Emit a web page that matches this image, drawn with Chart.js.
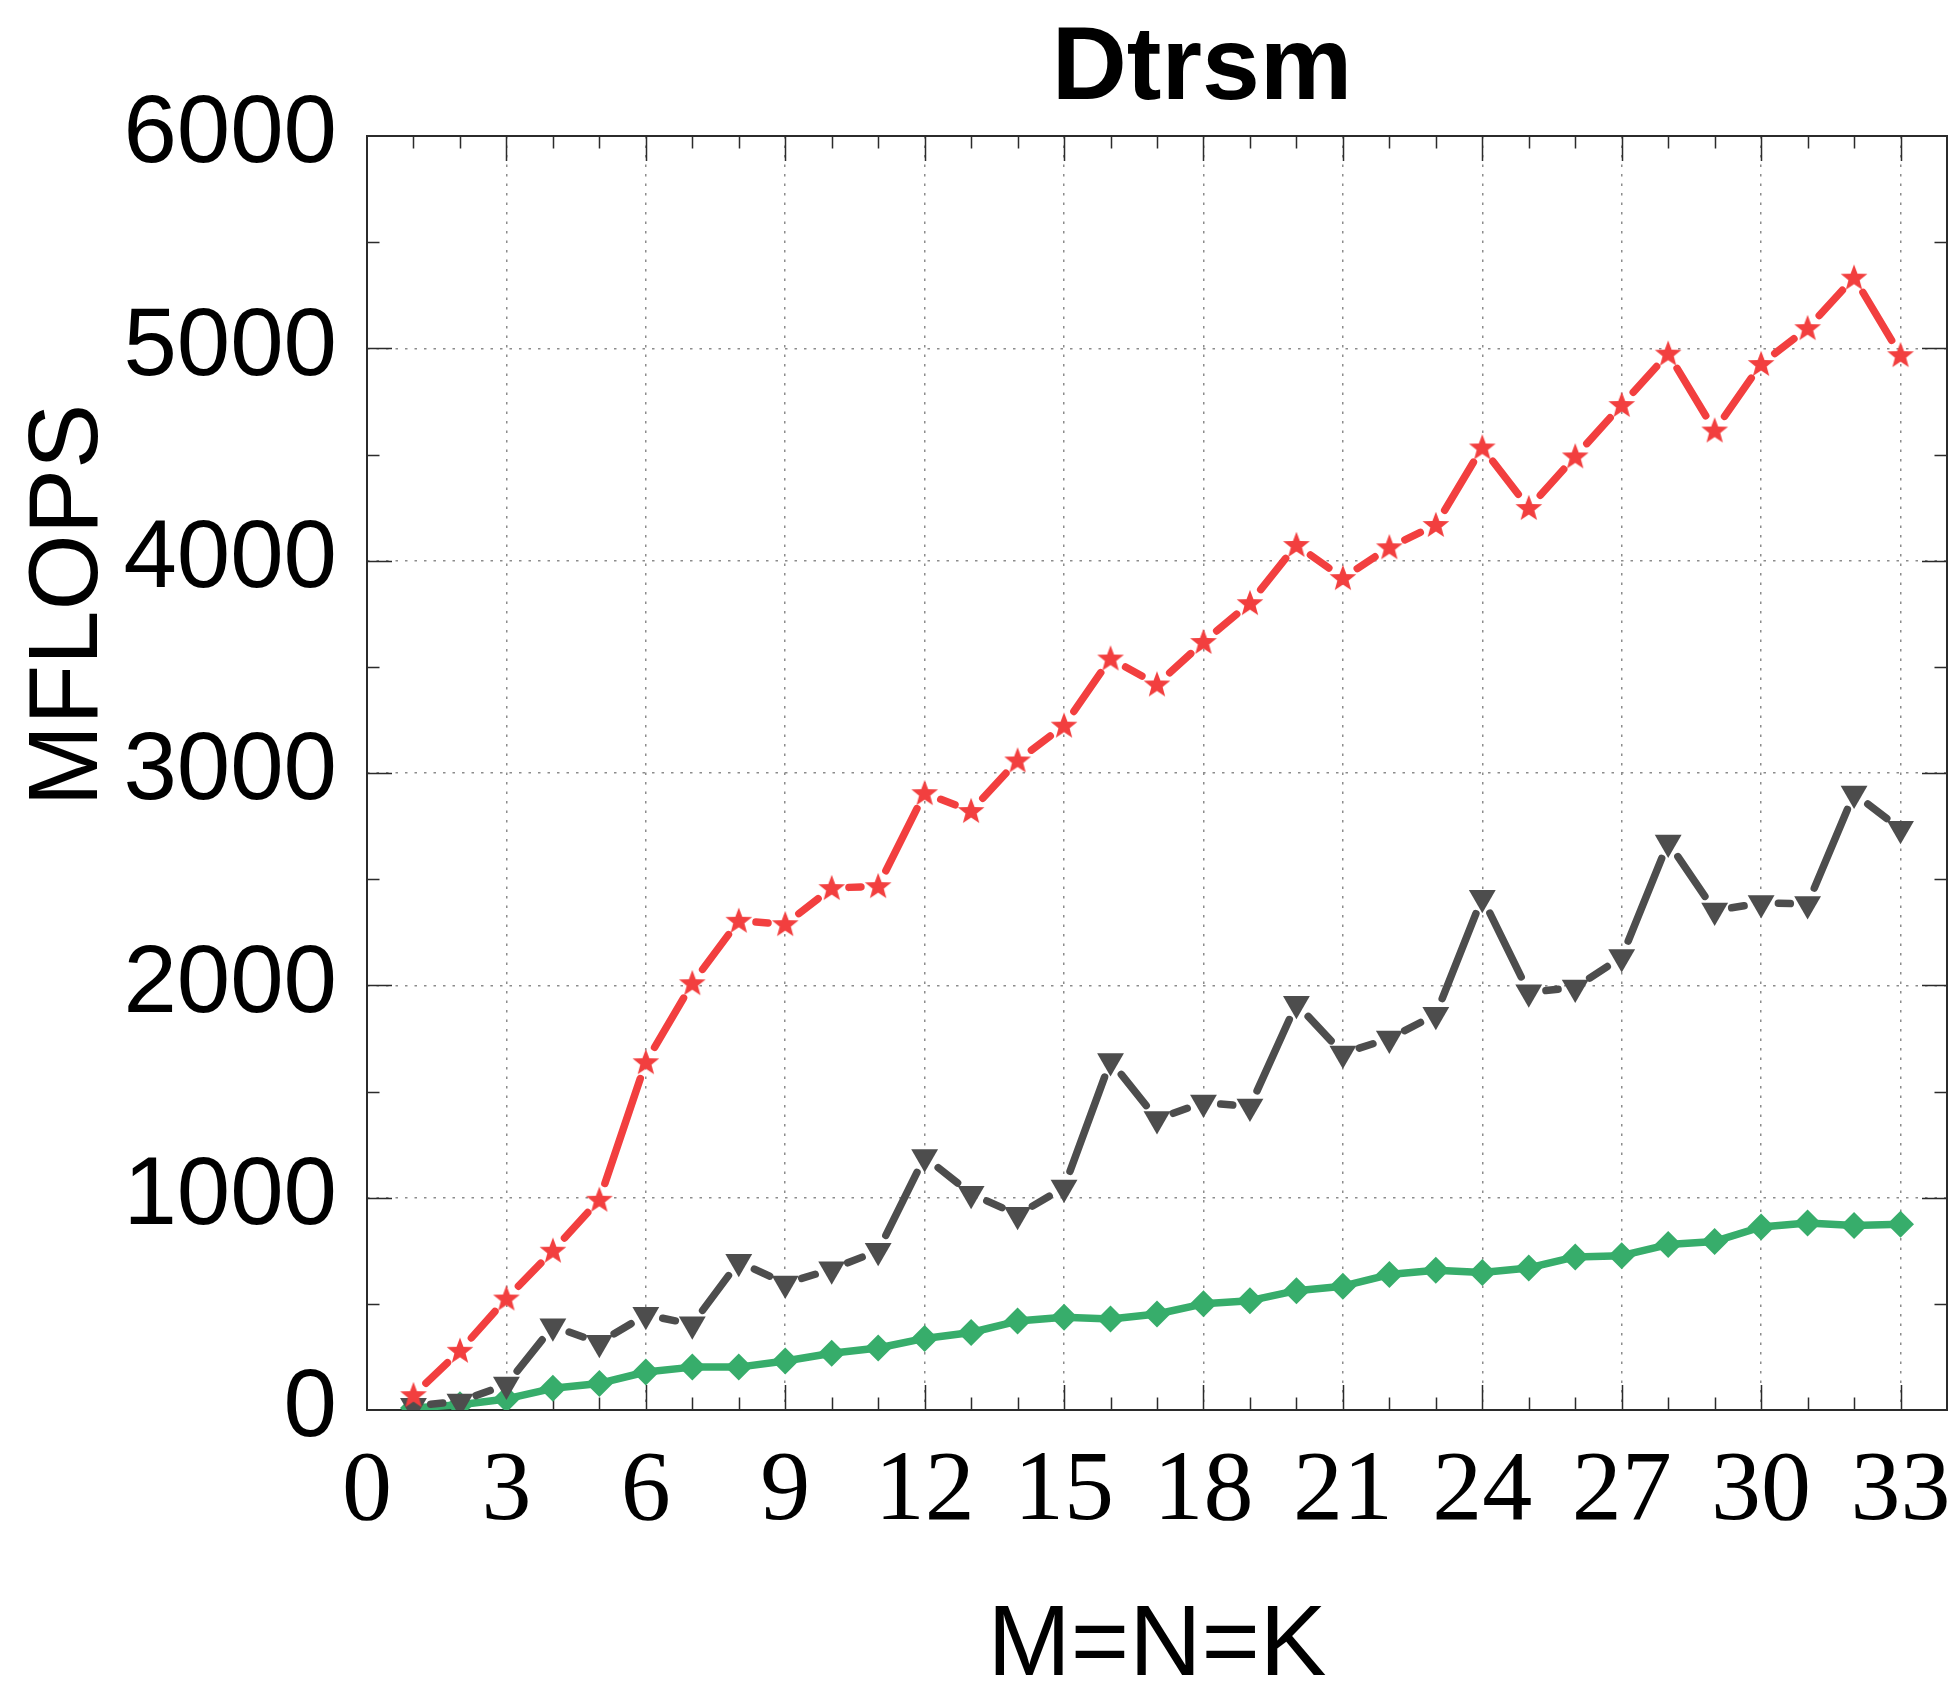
<!DOCTYPE html>
<html>
<head>
<meta charset="utf-8">
<title>Dtrsm</title>
<script src="https://cdn.jsdelivr.net/npm/chart.js@4.4.1/dist/chart.umd.min.js"></script>
<style>
  html, body { margin: 0; padding: 0; background: #ffffff; }
  #wrap { width: 1956px; height: 1701px; position: relative; }
  canvas { display: block; }
</style>
</head>
<body>
<div id="wrap"><canvas id="chart" width="1956" height="1701"></canvas></div>
<script>
// ---------------- data ----------------
const sizes = [1, 2, 3, 4, 5, 6, 7, 8, 9, 10, 11, 12, 13, 14, 15, 16, 17,
               18, 19, 20, 21, 22, 23, 24, 25, 26, 27, 28, 29, 30, 31, 32, 33];

const redSeries = [70, 279, 525, 750, 990, 1638, 2010, 2304, 2288, 2458, 2467,
                   2905, 2821, 3059, 3223, 3539, 3417, 3617, 3800, 4074, 3918,
                   4063, 4168, 4533, 4248, 4491, 4733, 4975, 4613, 4926, 5095,
                   5333, 4968];

const graySeries = [20, 40, 120, 394, 317, 448, 404, 698, 596, 663, 750,
                    1192, 1019, 919, 1048, 1644, 1370, 1448, 1429, 1913, 1679,
                    1750, 1862, 2413, 1967, 1990, 2133, 2673, 2352, 2388, 2383,
                    2903, 2737];

const greenSeries = [10, 25, 52, 102, 125, 179, 202, 202, 231, 267, 292,
                     337, 365, 419, 437, 429, 452, 500, 515, 562, 583,
                     638, 658, 648, 669, 721, 727, 779, 794, 862, 881,
                     869, 875];

const xTickValues = [0, 3, 6, 9, 12, 15, 18, 21, 24, 27, 30, 33];
const yTickValues = [0, 1000, 2000, 3000, 4000, 5000, 6000];

const chartTitle = 'Dtrsm';
const xAxisTitle = 'M=N=K';
const yAxisTitle = 'MFLOPS';

// ---------------- styles ----------------
const RED = '#F23F3F';
const GRAY = '#4D4D4D';
const GREEN = '#37AD6B';
const GRID = '#8C8C8C';
const FRAME = '#2B2B2B';

function makeStar(R, color) {
  const s = Math.ceil(2 * R + 4);
  const c = document.createElement('canvas');
  c.width = s; c.height = s;
  const g = c.getContext('2d');
  g.fillStyle = color;
  g.beginPath();
  const r = R * 0.42;
  for (let i = 0; i < 10; i++) {
    const a = -Math.PI / 2 + i * Math.PI / 5;
    const rad = (i % 2 === 0) ? R : r;
    const px = s / 2 + rad * Math.cos(a);
    const py = s / 2 + rad * Math.sin(a) + R * 0.05;
    if (i === 0) g.moveTo(px, py); else g.lineTo(px, py);
  }
  g.closePath();
  g.fill();
  return c;
}
const starImg = makeStar(14, RED);

// line segments interrupted around each marker
function gapSegment(gap, lw) {
  return {
    borderDash: (ctx) => {
      const L = Math.hypot(ctx.p1.x - ctx.p0.x, ctx.p1.y - ctx.p0.y);
      const D = L - 2 * gap - lw;
      if (D <= 0.5) return [1, L + 10];
      return [D, L];
    },
    borderDashOffset: (ctx) => {
      const L = Math.hypot(ctx.p1.x - ctx.p0.x, ctx.p1.y - ctx.p0.y);
      const D = L - 2 * gap - lw;
      const s = gap + lw / 2;
      if (D <= 0.5) return 0;
      return D + L - s + ctx.p0DataIndex * 1e-6;
    },
    borderColor: (ctx) => {
      const L = Math.hypot(ctx.p1.x - ctx.p0.x, ctx.p1.y - ctx.p0.y);
      const D = L - 2 * gap - lw;
      return D <= 0.5 ? 'rgba(0,0,0,0)' : undefined;
    }
  };
}

function toPoints(values) {
  return sizes.map((s, i) => ({ x: s, y: values[i] }));
}

// ---------------- plugins ----------------
const framePlugin = {
  id: 'frameTicks',
  beforeDatasetsDraw(chart) {
    const { ctx, chartArea: a, scales } = chart;
    const xs = scales.x, ys = scales.y;
    ctx.save();
    ctx.strokeStyle = FRAME;
    ctx.lineWidth = 1.5;
    ctx.setLineDash([]);
    // x ticks (every unit), top and bottom, inward
    for (let v = 1; v < 34; v++) {
      const px = Math.round(xs.getPixelForValue(v)) + 0.5;
      const len = (v % 3 === 0) ? 25 : 12.5;
      ctx.beginPath();
      ctx.moveTo(px, a.bottom); ctx.lineTo(px, a.bottom - len);
      ctx.moveTo(px, a.top); ctx.lineTo(px, a.top + len);
      ctx.stroke();
    }
    // y ticks (every 500), left and right, inward
    for (let v = 500; v < 6000; v += 500) {
      const py = Math.round(ys.getPixelForValue(v)) + 0.5;
      const len = (v % 1000 === 0) ? 25 : 12.5;
      ctx.beginPath();
      ctx.moveTo(a.left, py); ctx.lineTo(a.left + len, py);
      ctx.moveTo(a.right, py); ctx.lineTo(a.right - len, py);
      ctx.stroke();
    }
    // frame
    ctx.lineWidth = 2;
    ctx.strokeRect(a.left, a.top, a.right - a.left, a.bottom - a.top);
    ctx.restore();
  },
  afterDraw(chart) {
    const { ctx, chartArea: a } = chart;
    ctx.save();
    ctx.fillStyle = '#000000';
    // title
    ctx.font = 'bold 104px "Liberation Sans", Arial, sans-serif';
    ctx.textAlign = 'center';
    ctx.textBaseline = 'alphabetic';
    ctx.fillText(chartTitle, (a.left + a.right) / 2 + 45, 99);
    // x axis title
    ctx.font = '100px "Liberation Sans", Arial, sans-serif';
    ctx.fillText(xAxisTitle, (a.left + a.right) / 2, 1675);
    // y axis title
    ctx.translate(97, 605);
    ctx.rotate(-Math.PI / 2);
    ctx.font = '98px "Liberation Sans", Arial, sans-serif';
    ctx.textBaseline = 'alphabetic';
    ctx.fillText(yAxisTitle, 0, 0);
    ctx.restore();
  }
};

// ---------------- chart ----------------
const LW = 7.5;
new Chart(document.getElementById('chart'), {
  type: 'line',
  data: {
    datasets: [
      {
        label: 'red',
        data: toPoints(redSeries),
        borderColor: RED,
        backgroundColor: RED,
        borderWidth: LW,
        borderCapStyle: 'round',
        borderJoinStyle: 'round',
        pointStyle: starImg,
        pointRadius: 14,
        pointBackgroundColor: RED,
        pointBorderColor: RED,
        segment: gapSegment(13.5, LW),
        tension: 0
      },
      {
        label: 'gray',
        data: toPoints(graySeries),
        borderColor: GRAY,
        backgroundColor: GRAY,
        borderWidth: LW,
        borderCapStyle: 'round',
        borderJoinStyle: 'round',
        pointStyle: 'triangle',
        pointRotation: 180,
        pointRadius: 15.5,
        pointBorderWidth: 0,
        pointBackgroundColor: GRAY,
        pointBorderColor: GRAY,
        segment: gapSegment(13.5, LW),
        tension: 0
      },
      {
        label: 'green',
        data: toPoints(greenSeries),
        borderColor: GREEN,
        backgroundColor: GREEN,
        borderWidth: LW,
        borderCapStyle: 'round',
        borderJoinStyle: 'round',
        pointStyle: 'rectRot',
        pointRadius: 13.5,
        pointBorderWidth: 0,
        pointBackgroundColor: GREEN,
        pointBorderColor: GREEN,
        tension: 0
      }
    ]
  },
  options: {
    responsive: false,
    animation: false,
    devicePixelRatio: 1,
    layout: { autoPadding: false, padding: { top: 136, right: 9, left: 0, bottom: 0 } },
    plugins: {
      legend: { display: false },
      title: { display: false },
      tooltip: { enabled: false }
    },
    events: [],
    scales: {
      x: {
        type: 'linear',
        min: 0,
        max: 34,
        afterBuildTicks: (scale) => { scale.ticks = xTickValues.map(v => ({ value: v })); },
        afterFit: (scale) => { scale.height = 291; scale.paddingLeft = 0; scale.paddingRight = 0; },
        ticks: {
          autoSkip: false,
          maxRotation: 0,
          minRotation: 0,
          padding: 23,
          color: '#000000',
          font: { family: '"Liberation Serif", "Times New Roman", serif', size: 100 },
          callback: (v) => String(v)
        },
        grid: {
          drawTicks: false,
          lineWidth: 1.5,
          color: (ctx) => (ctx.tick && (ctx.tick.value === 0 || ctx.tick.value === 34)) ? 'rgba(0,0,0,0)' : GRID
        },
        border: { display: false, dash: [2.5, 7] }
      },
      y: {
        type: 'linear',
        min: 0,
        max: 6000,
        afterBuildTicks: (scale) => { scale.ticks = yTickValues.map(v => ({ value: v })); },
        afterFit: (scale) => { scale.width = 367; scale.paddingTop = 0; scale.paddingBottom = 0; },
        ticks: {
          padding: 30,
          color: '#000000',
          font: { family: '"Liberation Sans", Arial, sans-serif', size: 96 },
          callback: (v) => String(v)
        },
        grid: {
          drawTicks: false,
          lineWidth: 1.5,
          color: (ctx) => (ctx.tick && (ctx.tick.value === 0 || ctx.tick.value === 6000)) ? 'rgba(0,0,0,0)' : GRID
        },
        border: { display: false, dash: [2.5, 7] }
      }
    }
  },
  plugins: [framePlugin]
});
</script>
</body>
</html>
